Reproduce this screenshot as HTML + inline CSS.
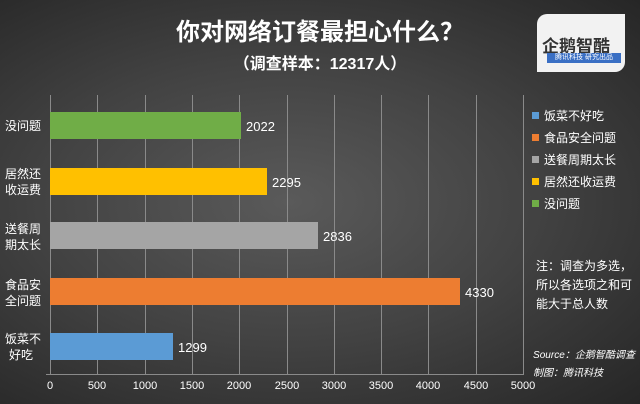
<html><head><style>
body{margin:0;width:640px;height:404px;overflow:hidden;background:radial-gradient(ellipse at 45% 50%,#5a5a5a 0%,#424242 50%,#262626 100%);font-family:"Liberation Sans","Noto Sans CJK SC",sans-serif;color:#fff;position:relative}
.a{position:absolute;white-space:nowrap}
</style></head><body>
<div class="a" style="left:0;width:640px;top:12px;text-align:center;font-size:24px;font-weight:bold">你对网络订餐最担心什么？</div>
<div class="a" style="left:0;width:640px;top:50px;text-align:center;font-size:16px;font-weight:bold">（调查样本：12317人）</div>
<div class="a" style="left:537px;top:14px;width:88px;height:58px;background:#f2f2f2;border-radius:10px 0 10px 0"></div>
<div class="a" style="left:542px;top:32px;font-size:17px;font-weight:bold;color:#333">企鹅智酷</div>
<div class="a" style="left:547px;top:53px;width:74px;height:10px;background:#3a6fc4;font-size:7px;line-height:10px;text-align:center">腾讯科技 研究出品</div>
<svg class="a" style="left:0;top:0" width="640" height="404">
<g stroke="#8a8a8a" stroke-width="1">
<line x1="50.5" y1="95" x2="50.5" y2="375"/>
<line x1="97.5" y1="95" x2="97.5" y2="375"/><line x1="145.5" y1="95" x2="145.5" y2="375"/><line x1="192.5" y1="95" x2="192.5" y2="375"/><line x1="239.5" y1="95" x2="239.5" y2="375"/><line x1="287.5" y1="95" x2="287.5" y2="375"/><line x1="334.5" y1="95" x2="334.5" y2="375"/><line x1="381.5" y1="95" x2="381.5" y2="375"/><line x1="428.5" y1="95" x2="428.5" y2="375"/><line x1="476.5" y1="95" x2="476.5" y2="375"/><line x1="523.5" y1="95" x2="523.5" y2="375"/>
<line x1="46" y1="374.5" x2="523" y2="374.5"/>
</g>
<rect x="50" y="112" width="191" height="27" fill="#70ad47"/>
<rect x="50" y="168" width="217" height="27" fill="#ffc000"/>
<rect x="50" y="222" width="268" height="27" fill="#a5a5a5"/>
<rect x="50" y="278" width="410" height="27" fill="#ed7d31"/>
<rect x="50" y="333" width="123" height="27" fill="#5b9bd5"/>
<g fill="#fff" font-size="13">
<text x="246" y="131">2022</text><text x="272" y="187">2295</text><text x="323" y="241">2836</text><text x="465" y="297">4330</text><text x="178" y="352">1299</text>
<g font-size="11" text-anchor="middle"><text x="50" y="389">0</text><text x="97" y="389">500</text><text x="145" y="389">1000</text><text x="192" y="389">1500</text><text x="239" y="389">2000</text><text x="287" y="389">2500</text><text x="334" y="389">3000</text><text x="381" y="389">3500</text><text x="428" y="389">4000</text><text x="476" y="389">4500</text><text x="523" y="389">5000</text></g>
<g font-size="12"><text x="5" y="130">没问题</text><text x="5" y="178">居然还</text><text x="5" y="194">收运费</text><text x="5" y="233">送餐周</text><text x="5" y="249">期太长</text><text x="5" y="289">食品安</text><text x="5" y="305">全问题</text><text x="5" y="343">饭菜不</text><text x="9" y="359">好吃</text></g>
</g>
<g font-size="12" fill="#fff">
<rect x="532" y="112" width="7" height="7" fill="#5b9bd5"/><text x="544" y="120">饭菜不好吃</text>
<rect x="532" y="134" width="7" height="7" fill="#ed7d31"/><text x="544" y="142">食品安全问题</text>
<rect x="532" y="156" width="7" height="7" fill="#a5a5a5"/><text x="544" y="164">送餐周期太长</text>
<rect x="532" y="178" width="7" height="7" fill="#ffc000"/><text x="544" y="186">居然还收运费</text>
<rect x="532" y="200" width="7" height="7" fill="#70ad47"/><text x="544" y="208">没问题</text>
<text x="536" y="270">注：调查为多选，</text><text x="536" y="289">所以各选项之和可</text><text x="536" y="308">能大于总人数</text>
<g font-style="italic" font-size="10"><text x="533" y="358" textLength="102" lengthAdjust="spacingAndGlyphs">Source：企鹅智酷调查</text><text x="533" y="376">制图：腾讯科技</text></g>
</g>
</svg>
</body></html>
